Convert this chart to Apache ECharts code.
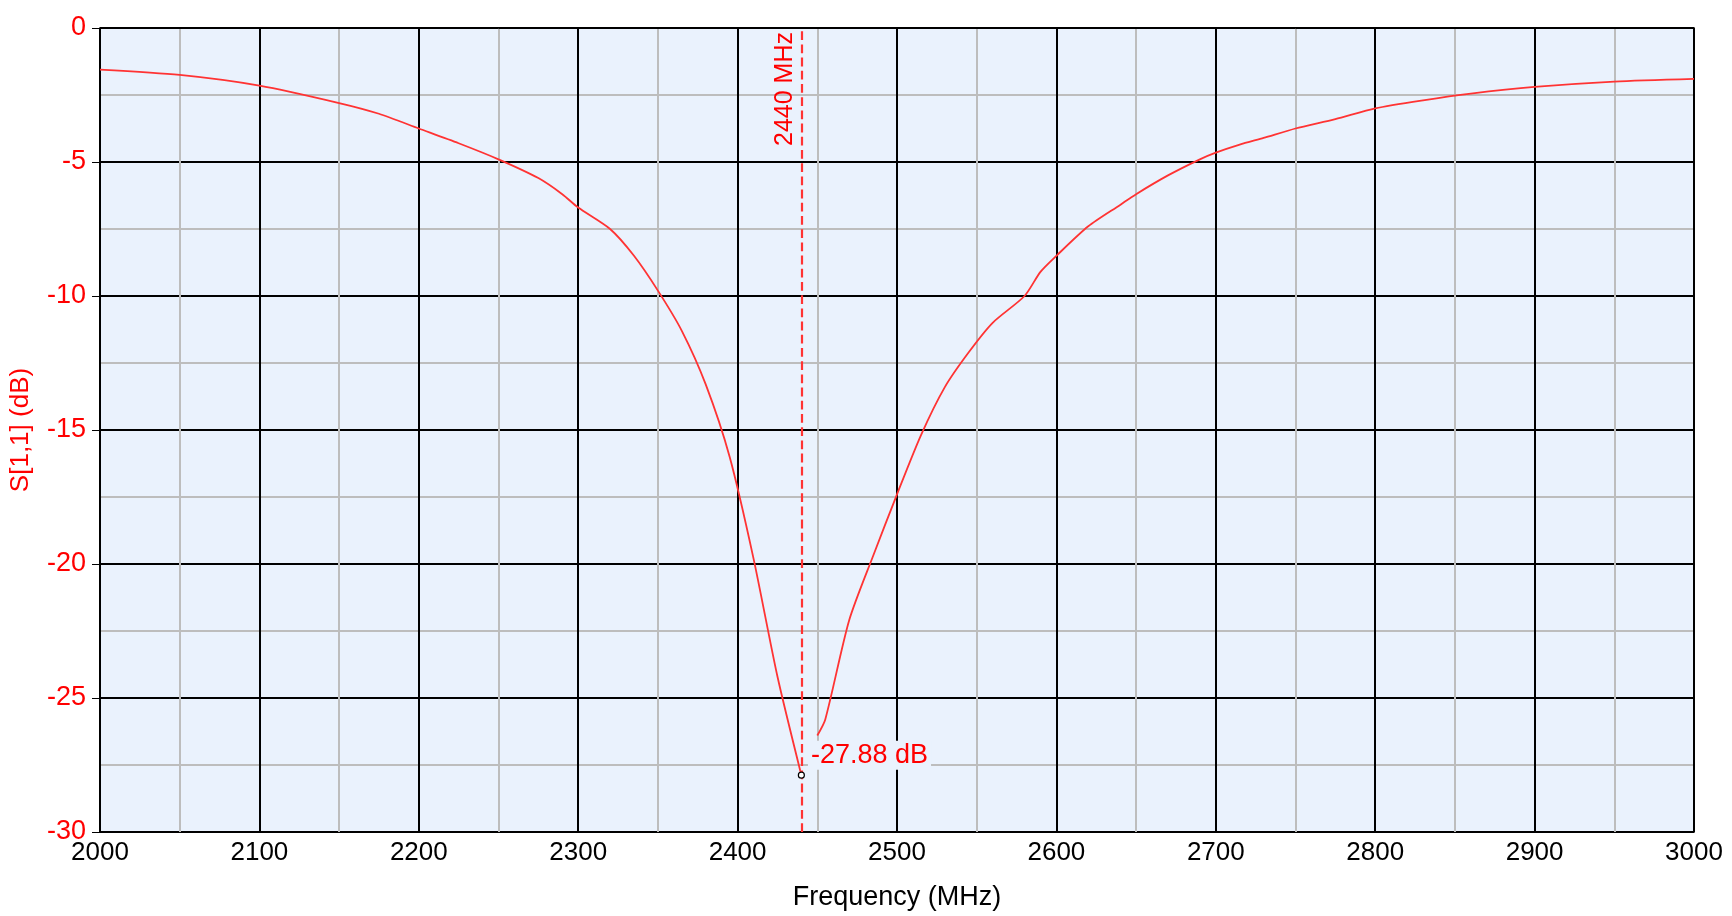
<!DOCTYPE html>
<html><head><meta charset="utf-8">
<script src="https://cdn.jsdelivr.net/npm/echarts@6/dist/echarts.min.js"></script>
<style>html,body{margin:0;padding:0;background:#fff}#c{width:1732px;height:916px}</style>
</head><body><div id="c"></div>
<script>
const freqs = [2000,2050,2100,2150,2175,2200,2225,2250,2275,2290,2300,2320,2335,2350,2365,2380,2395,2410,2425,2440,2445,2450,2455,2470,2485,2500,2515,2530,2545,2560,2580,2590,2600,2620,2640,2650,2670,2690,2700,2715,2730,2750,2775,2800,2830,2860,2900,2950,3000];
const s11 = [-1.55,-1.75,-2.15,-2.8,-3.2,-3.75,-4.3,-4.9,-5.6,-6.2,-6.7,-7.5,-8.5,-9.8,-11.3,-13.3,-16.0,-19.8,-24.2,-27.88,null,-26.4,-25.8,-22.1,-19.7,-17.4,-15.2,-13.4,-12.1,-11.0,-10.0,-9.1,-8.5,-7.4,-6.6,-6.2,-5.5,-4.9,-4.65,-4.35,-4.1,-3.75,-3.4,-3.0,-2.7,-2.45,-2.2,-2.0,-1.9];
const markerFreq = 2440, markerVal = -27.88;
const data = freqs.map((f,i)=>[f,s11[i]]);
const ch = echarts.init(document.getElementById('c'));
const F = 'Liberation Sans, Arial, sans-serif';
ch.setOption({
  animation:false,
  grid:{left:96,right:38,top:28,bottom:83,backgroundColor:'#eaf2fd',show:true,borderColor:'#000',borderWidth:1.5},
  xAxis:{type:'value',min:2000,max:3000,interval:100,name:'Frequency (MHz)',nameLocation:'middle',nameGap:52,
    nameTextStyle:{color:'#000',fontSize:27,fontFamily:F},
    axisLine:{lineStyle:{color:'#000'}},axisTick:{show:true,length:8,lineStyle:{color:'#000'}},
    axisLabel:{color:'#000',fontSize:26,fontFamily:F,margin:8,formatter:v=>String(v)},
    splitLine:{show:true,lineStyle:{color:'#000',width:2}},
    minorTick:{show:false,splitNumber:2},minorSplitLine:{show:true,lineStyle:{color:'#bdbdbd',width:2}}},
  yAxis:{type:'value',min:-30,max:0,interval:5,name:'S[1,1] (dB)',nameLocation:'middle',nameGap:66,
    nameTextStyle:{color:'#ff0000',fontSize:26,fontFamily:F},
    axisLine:{show:true,lineStyle:{color:'#000'}},axisTick:{show:true,length:8,lineStyle:{color:'#000'}},
    axisLabel:{color:'#ff0000',fontSize:27,fontFamily:F,margin:14},
    splitLine:{show:true,lineStyle:{color:'#000',width:2}},
    minorTick:{show:false,splitNumber:2},minorSplitLine:{show:true,lineStyle:{color:'#bdbdbd',width:2}}},
  series:[{type:'line',data:data,showSymbol:false,connectNulls:false,smooth:0.25,
    lineStyle:{color:'#ff3333',width:1.8},
    markLine:{silent:true,symbol:'none',lineStyle:{color:'#ff3333',type:'dashed',width:2.2},
      label:{show:true,position:'insideEndTop',formatter:markerFreq+' MHz',color:'#ff0000',fontSize:25,fontFamily:F,distance:4},
      data:[{xAxis:markerFreq}]},
    markPoint:{symbol:'circle',symbolSize:6,itemStyle:{color:'#fff',borderColor:'#000',borderWidth:1.2},
      label:{show:true,position:'right',offset:[-2,-20],formatter:markerVal.toFixed(2)+' dB',color:'#ff0000',fontSize:27,fontFamily:F,backgroundColor:'#eaf2fd',padding:[1,3]},
      data:[{coord:[markerFreq,markerVal]}]}
  }]
});
</script></body></html>
